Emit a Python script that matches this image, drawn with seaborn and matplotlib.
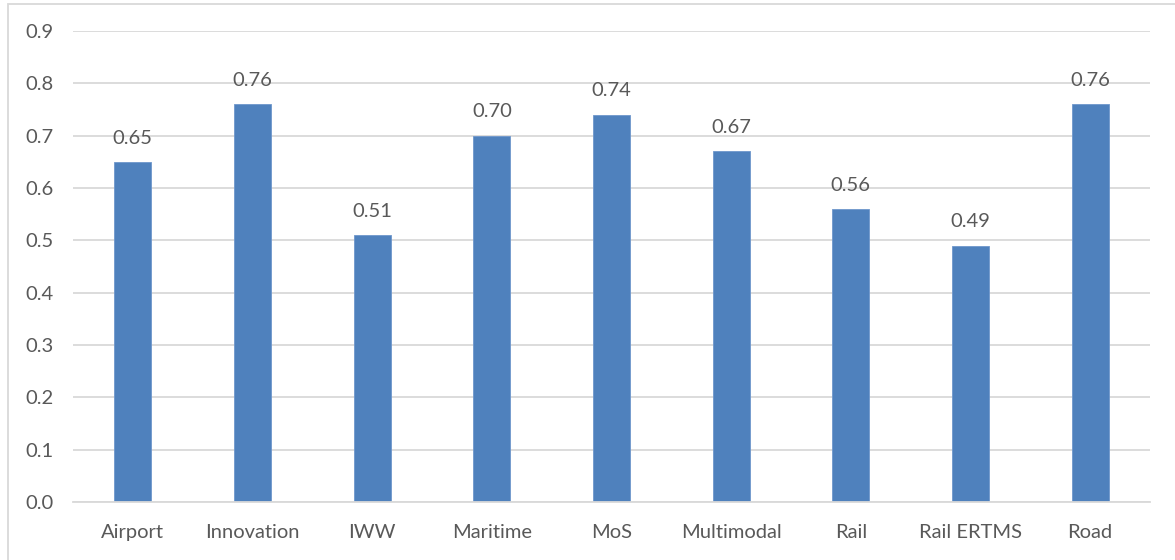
import matplotlib
matplotlib.use("Agg")
import matplotlib.pyplot as plt
import matplotlib.patches as mpatches
import seaborn as sns
import pandas as pd

categories = ["Airport", "Innovation", "IWW", "Maritime", "MoS",
              "Multimodal", "Rail", "Rail ERTMS", "Road"]
scores = [0.65, 0.76, 0.51, 0.70, 0.74, 0.67, 0.56, 0.49, 0.76]
y_ticks = [0.0, 0.1, 0.2, 0.3, 0.4, 0.5, 0.6, 0.7, 0.8, 0.9]

sns.set_theme(style="white")
plt.rcParams["font.family"] = ["Lato", "DejaVu Sans"]

W, H, DPI = 1175, 560, 100
fig = plt.figure(figsize=(W / DPI, H / DPI), dpi=DPI)
ax = fig.add_axes([73 / W, 1 - 502 / H, (1150 - 73) / W, (502 - 31) / H])

df = pd.DataFrame({"category": categories, "score": scores})
bar_color = "#4F81BD"
text_color = "#595959"
grid_color = "#D9D9D9"
fs = 14.5

sns.barplot(data=df, x="category", y="score", color=bar_color,
            width=0.31, saturation=1, ax=ax, edgecolor="#6E97CC", linewidth=0.6)

ax.set_xlim(-0.5, len(categories) - 0.5)
ax.set_ylim(0, 0.9)
ax.set_yticks(y_ticks)
ax.set_yticklabels([f"{t:.1f}" for t in y_ticks])
ax.set_xlabel("")
ax.set_ylabel("")

ax.yaxis.grid(True, color=grid_color, linewidth=1.3)
ax.set_axisbelow(True)
for side in ["top", "right", "left"]:
    ax.spines[side].set_visible(False)
ax.spines["bottom"].set_color(grid_color)
ax.spines["bottom"].set_linewidth(1.3)

ax.tick_params(axis="both", length=0, labelsize=fs, labelcolor=text_color)
ax.tick_params(axis="y", pad=14)
ax.tick_params(axis="x", pad=16)

for i, v in enumerate(scores):
    ax.annotate(f"{v:.2f}", xy=(i, v), xytext=(0, 11), textcoords="offset points",
                ha="center", va="bottom", fontsize=fs, color=text_color)

# chart area frame
frame = mpatches.Rectangle((7.5 / W, -0.1), 2.0, 0.1 + (H - 3.5) / H,
                           transform=fig.transFigure, fill=False,
                           edgecolor=grid_color, linewidth=1.3)
fig.patches.append(frame)

fig.savefig("out.png", dpi=DPI, facecolor="white")
